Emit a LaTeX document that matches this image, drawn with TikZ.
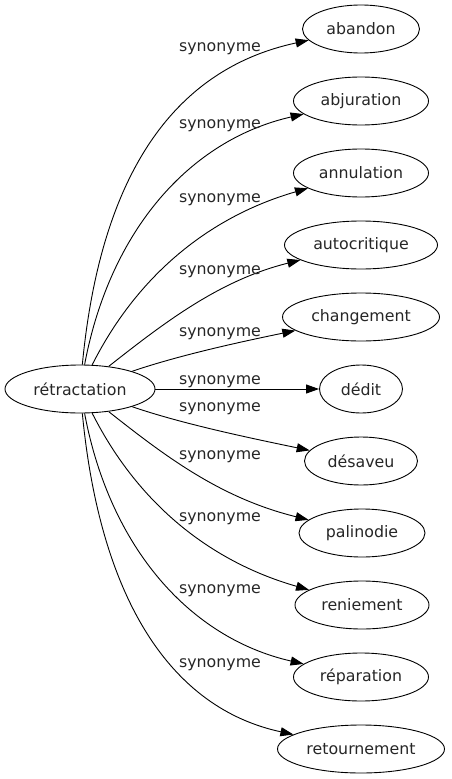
\documentclass[tikz,border=0pt]{standalone}
\usepackage{fontspec}
\setmainfont{DejaVu Sans}
\usetikzlibrary{arrows.meta,shapes.geometric}
\begin{document}
\begin{tikzpicture}[x=1pt,y=-1pt,
  every node/.style={font=\fontsize{15.8}{19}\selectfont, text=black!85},
  word/.style={draw, ellipse, inner sep=0pt, minimum height=48pt, line width=0.9pt},
  lbl/.style={anchor=base, inner sep=0pt},
  syn/.style={draw, line width=0.9pt, -{Triangle[length=13pt,width=9pt]}}]
\useasboundingbox (0,0) rectangle (451,779);
\node[word, minimum width=150pt] (c) at (80,389) {rétractation};
\node[word, minimum width=117pt] (n1) at (361,29) {abandon};
\node[word, minimum width=135pt] (n2) at (361,101) {abjuration};
\node[word, minimum width=135pt] (n3) at (361,173) {annulation};
\node[word, minimum width=153pt] (n4) at (361,245) {autocritique};
\node[word, minimum width=157pt] (n5) at (361,317) {changement};
\node[word, minimum width=83pt] (n6) at (361,389) {dédit};
\node[word, minimum width=113pt] (n7) at (361,461) {désaveu};
\node[word, minimum width=126pt] (n8) at (362,533) {palinodie};
\node[word, minimum width=134pt] (n9) at (362,605) {reniement};
\node[word, minimum width=135pt] (n10) at (361,677) {réparation};
\node[word, minimum width=167pt] (n11) at (361,749) {retournement};
\draw[syn] (c) .. controls (100,180) and (170,70) .. (n1);
\draw[syn] (c) .. controls (110,230) and (190,140) .. (n2);
\draw[syn] (c) .. controls (140,270) and (215,215) .. (n3);
\draw[syn] (c) .. controls (165,322) and (220,280) .. (n4);
\draw[syn] (c) .. controls (180,355) and (240,342) .. (n5);
\draw[syn] (c) -- (n6);
\draw[syn] (c) .. controls (180,423) and (240,436) .. (n7);
\draw[syn] (c) .. controls (165,456) and (220,498) .. (n8);
\draw[syn] (c) .. controls (140,508) and (215,563) .. (n9);
\draw[syn] (c) .. controls (110,548) and (190,638) .. (n10);
\draw[syn] (c) .. controls (100,598) and (170,708) .. (n11);
\node[lbl] (l1) at (220,51) {synonyme};
\node[lbl] (l2) at (220,128) {synonyme};
\node[lbl] (l3) at (220,202) {synonyme};
\node[lbl] (l4) at (220,274) {synonyme};
\node[lbl] (l5) at (220,336) {synonyme};
\node[lbl] (l6) at (220,384) {synonyme};
\node[lbl] (l7) at (220,411) {synonyme};
\node[lbl] (l8) at (220,459) {synonyme};
\node[lbl] (l9) at (220,521) {synonyme};
\node[lbl] (l10) at (220,593) {synonyme};
\node[lbl] (l11) at (220,667) {synonyme};
\end{tikzpicture}
\end{document}
